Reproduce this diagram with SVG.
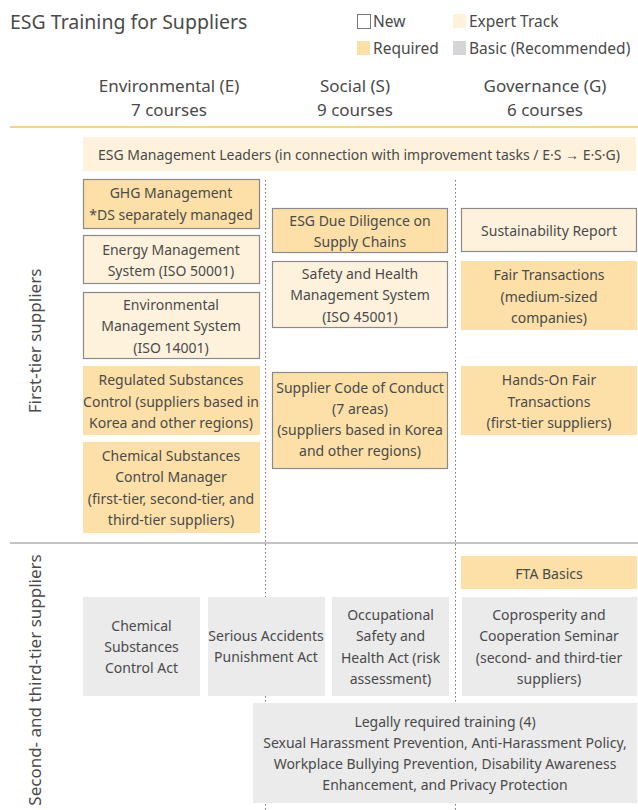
<svg xmlns="http://www.w3.org/2000/svg" width="638" height="810" viewBox="0 0 638 810">
<style>
text{font-family:"Noto Sans","Liberation Sans",sans-serif;fill:#4a4a4a;}
.t{font-size:14px;text-anchor:middle;}
.h{font-size:17px;text-anchor:middle;}
.lg{font-size:15.5px;}
.req{fill:#FCE0A8;}
.exp{fill:#FEF2DD;}
.bas{fill:#EBEBEC;}
.bd{stroke:#8a8a8a;stroke-width:1.2;}
.dot{stroke:#777;stroke-width:1;stroke-dasharray:1.5 2.5;fill:none;}
</style>
<rect width="638" height="810" fill="#fff"/>
<g id="title"><text x="10" y="29" style="font-size:19.5px">ESG Training for Suppliers</text></g>
<g id="legend">
<rect x="357.5" y="14.5" width="13" height="14" fill="#fff" stroke="#777" stroke-width="1"/>
<text class="lg" x="373" y="27">New</text>
<rect x="453" y="14" width="13" height="14" class="exp"/>
<text class="lg" x="469" y="27">Expert Track</text>
<rect x="357" y="41" width="13" height="14" class="req"/>
<text class="lg" x="373" y="54">Required</text>
<rect x="453" y="41" width="13" height="14" class="bas" style="fill:#D6D6D8"/>
<text class="lg" x="469" y="54">Basic (Recommended)</text>
</g>
<g id="headers">
<text class="h" x="169" y="92">Environmental (E)</text>
<text class="h" x="169" y="116">7 courses</text>
<text class="h" x="355" y="92">Social (S)</text>
<text class="h" x="355" y="116">9 courses</text>
<text class="h" x="545" y="92">Governance (G)</text>
<text class="h" x="545" y="116">6 courses</text>
</g>
<g id="connectors">
<line x1="10" y1="127" x2="638" y2="127" stroke="#F6C35E" stroke-width="1.5"/>
<line x1="10" y1="543" x2="638" y2="543" stroke="#8a8a8a" stroke-width="1.2"/>
<line class="dot" x1="265.5" y1="180" x2="265.5" y2="810"/>
<line class="dot" x1="455.5" y1="180" x2="455.5" y2="810"/>
</g>
<g id="row-labels">
<text class="h" transform="translate(41 341) rotate(-90)">First-tier suppliers</text>
<text class="h" transform="translate(41 680) rotate(-90)">Second- and third-tier suppliers</text>
</g>
<g id="esg-leaders">
<rect x="83" y="137" width="553" height="34" class="exp"/>
<text class="t" x="359" y="160">ESG Management Leaders (in connection with improvement tasks / E·S → E·S·G)</text>
</g>
<g id="ghg">
<rect x="83.5" y="179.5" width="176" height="49" class="req bd"/>
<text class="t" x="171" y="198">GHG Management</text>
<text class="t" x="171" y="220">*DS separately managed</text>
</g>
<g id="energy">
<rect x="83.5" y="235.5" width="176" height="48" class="exp bd"/>
<text class="t" x="171" y="255">Energy Management</text>
<text class="t" x="171" y="276">System (ISO 50001)</text>
</g>
<g id="env-ms">
<rect x="83.5" y="292.5" width="176" height="66" class="exp bd"/>
<text class="t" x="171" y="310">Environmental</text>
<text class="t" x="171" y="331">Management System</text>
<text class="t" x="171" y="353">(ISO 14001)</text>
</g>
<g id="regulated">
<rect x="83" y="366" width="177" height="69" class="req"/>
<text class="t" x="171" y="385">Regulated Substances</text>
<text class="t" x="171" y="407">Control (suppliers based in</text>
<text class="t" x="171" y="428">Korea and other regions)</text>
</g>
<g id="chem-manager">
<rect x="83" y="442" width="177" height="91" class="req"/>
<text class="t" x="171" y="461">Chemical Substances</text>
<text class="t" x="171" y="482">Control Manager</text>
<text class="t" x="171" y="504">(first-tier, second-tier, and</text>
<text class="t" x="171" y="525">third-tier suppliers)</text>
</g>
<g id="due-diligence">
<rect x="272.5" y="208.5" width="175" height="44" class="req bd"/>
<text class="t" x="360" y="226">ESG Due Diligence on</text>
<text class="t" x="360" y="247">Supply Chains</text>
</g>
<g id="safety-ms">
<rect x="272.5" y="261.5" width="175" height="66" class="exp bd"/>
<text class="t" x="360" y="279">Safety and Health</text>
<text class="t" x="360" y="300">Management System</text>
<text class="t" x="360" y="322">(ISO 45001)</text>
</g>
<g id="code-of-conduct">
<rect x="272.5" y="372.5" width="175" height="96" class="req bd"/>
<text class="t" x="360" y="393">Supplier Code of Conduct</text>
<text class="t" x="360" y="414">(7 areas)</text>
<text class="t" x="360" y="435">(suppliers based in Korea</text>
<text class="t" x="360" y="456">and other regions)</text>
</g>
<g id="sustainability">
<rect x="461.5" y="208.5" width="175" height="43" class="exp bd"/>
<text class="t" x="549" y="236">Sustainability Report</text>
</g>
<g id="fair-trans">
<rect x="461" y="261" width="176" height="69" class="req"/>
<text class="t" x="549" y="280">Fair Transactions</text>
<text class="t" x="549" y="302">(medium-sized</text>
<text class="t" x="549" y="323">companies)</text>
</g>
<g id="hands-on">
<rect x="461" y="366" width="176" height="69" class="req"/>
<text class="t" x="549" y="385">Hands-On Fair</text>
<text class="t" x="549" y="407">Transactions</text>
<text class="t" x="549" y="428">(first-tier suppliers)</text>
</g>
<g id="fta">
<rect x="461" y="556" width="176" height="33" class="req"/>
<text class="t" x="549" y="579">FTA Basics</text>
</g>
<g id="chem-act">
<rect x="83" y="597" width="117" height="99" class="bas"/>
<text class="t" x="141.5" y="631">Chemical</text>
<text class="t" x="141.5" y="652">Substances</text>
<text class="t" x="141.5" y="673">Control Act</text>
</g>
<g id="serious-acc">
<rect x="208" y="597" width="117" height="99" class="bas"/>
<text class="t" x="266" y="641">Serious Accidents</text>
<text class="t" x="266" y="662">Punishment Act</text>
</g>
<g id="osh-act">
<rect x="332" y="597" width="117" height="99" class="bas"/>
<text class="t" x="390.5" y="620">Occupational</text>
<text class="t" x="390.5" y="641">Safety and</text>
<text class="t" x="390.5" y="663">Health Act (risk</text>
<text class="t" x="390.5" y="684">assessment)</text>
</g>
<g id="coprosperity">
<rect x="462" y="597" width="175" height="99" class="bas"/>
<text class="t" x="549" y="620">Coprosperity and</text>
<text class="t" x="549" y="641">Cooperation Seminar</text>
<text class="t" x="549" y="663">(second- and third-tier</text>
<text class="t" x="549" y="684">suppliers)</text>
</g>
<g id="legal">
<rect x="253" y="703" width="384" height="100" class="bas"/>
<text class="t" x="445" y="727">Legally required training (4)</text>
<text class="t" x="445" y="748">Sexual Harassment Prevention, Anti-Harassment Policy,</text>
<text class="t" x="445" y="769">Workplace Bullying Prevention, Disability Awareness</text>
<text class="t" x="445" y="790">Enhancement, and Privacy Protection</text>
</g>
</svg>
